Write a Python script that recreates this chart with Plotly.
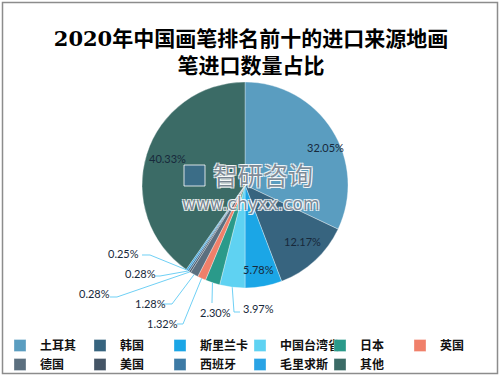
import numpy as np
import plotly.graph_objects as go

# ---------------- data ----------------
categories = ["土耳其", "韩国", "斯里兰卡", "中国台湾省", "日本", "英国",
              "德国", "美国", "西班牙", "毛里求斯", "其他"]
shares = [32.05, 12.17, 5.78, 3.97, 2.30, 1.32, 1.28, 0.28, 0.28, 0.25, 40.33]
title_text = "2020年中国画笔排名前十的进口来源地画<br>笔进口数量占比"

# ---------------- style / layout ----------------
colors = ["#5a9dc0", "#37647f", "#1ba6e6", "#5fd2f2", "#2a9a8a", "#f0806a",
          "#5b6f7f", "#455566", "#3d7aa5", "#29a3e5", "#3b6b66"]
W, H = 502, 378
CX, CY, R = 245, 185, 103          # pie centre / radius in px
LABEL_COLOR = "#17293b"
LEADER_COLOR = "#6fd0f5"

# inside labels: index -> (angle offset deg, radial fraction)
inside_cfg = {0: (7, 0.86), 1: (-3, 0.78), 2: (1.5, 0.83), 10: (1.3, 0.79)}
# outside labels: index -> (text left x, text centre y, leader elbow points)
outside_cfg = {
    3: (241, 308, [(234, 312), (240, 312)]),
    4: (198, 312, [(212, 303)]),
    5: (145, 323, [(183, 324), (177, 324)]),
    6: (133, 303, [(172, 304), (162, 304)]),
    7: (77, 293, [(117, 297), (110, 297)]),
    8: (123, 273, [(160, 276), (155, 276)]),
    9: (106, 253, [(150, 255), (142, 255)]),
}


def px(x, y):
    return x / W, 1 - y / H


vals = np.array(shares)
cum = np.cumsum(vals)
mid_deg = (cum - vals / 2) / vals.sum() * 360.0


def polar_px(angle_deg, frac):
    a = np.deg2rad(angle_deg)
    return CX + R * frac * np.sin(a), CY - R * frac * np.cos(a)


fig = go.Figure(go.Pie(
    labels=categories, values=shares, sort=False, direction="clockwise",
    rotation=0, textinfo="none", hoverinfo="label+percent",
    marker=dict(colors=colors, line=dict(color="rgba(255,255,255,0.55)", width=0.6)),
    domain=dict(x=[(CX - R) / W, (CX + R) / W], y=[1 - (CY + R) / H, 1 - (CY - R) / H]),
))

annotations = []
shapes = []
label_font = dict(family="Lato, Open Sans, sans-serif", size=11, color=LABEL_COLOR)

for i, (dang, frac) in inside_cfg.items():
    x, y = polar_px(mid_deg[i] + dang, frac)
    xp, yp = px(x, y)
    annotations.append(dict(x=xp, y=yp, xref="paper", yref="paper", text=f"{shares[i]:.2f}%",
                            showarrow=False, xanchor="center", yanchor="middle", font=label_font))

for i, (tx, ty, elbows) in outside_cfg.items():
    ax_, ay_ = polar_px(mid_deg[i], 1.0)
    pts = [(ax_, ay_)] + elbows
    path = "M " + " L ".join(f"{px(x, y)[0]:.5f},{px(x, y)[1]:.5f}" for x, y in pts)
    shapes.append(dict(type="path", path=path, xref="paper", yref="paper",
                       line=dict(color=LEADER_COLOR, width=1)))
    xp, yp = px(tx, ty)
    annotations.append(dict(x=xp, y=yp, xref="paper", yref="paper", text=f"{shares[i]:.2f}%",
                            showarrow=False, xanchor="left", yanchor="middle", font=label_font))

# watermark
wm_shadow = "1px 1px 0 #fff, -1px -1px 0 #fff, 1px -1px 0 #fff, -1px 1px 0 #fff"
xp, yp = px(263, 174)
annotations.append(dict(x=xp, y=yp, xref="paper", yref="paper", text="智研咨询", showarrow=False,
                        borderpad=0,
                        font=dict(family="Noto Sans CJK SC", size=25, color="rgba(95,110,125,0.8)",
                                  shadow=wm_shadow)))
xp, yp = px(251, 204)
annotations.append(dict(x=xp, y=yp, xref="paper", yref="paper", text="www.chyxx.com", showarrow=False,
                        borderpad=0,
                        font=dict(family="DejaVu Sans, sans-serif", size=17, color="rgba(95,110,125,0.8)",
                                  shadow=wm_shadow)))
x0, y0 = px(184, 165)
x1, y1 = px(205, 186)
shapes.append(dict(type="rect", xref="paper", yref="paper", x0=x0, y0=y0, x1=x1, y1=y1,
                   fillcolor="rgba(60,110,150,0.7)", line=dict(color="rgba(255,255,255,0.8)", width=1)))

# outer border
x0, y0 = px(2.5, 2.5)
x1, y1 = px(497.5, 373.5)
shapes.append(dict(type="rect", xref="paper", yref="paper", x0=x0, y0=y0, x1=x1, y1=y1,
                   line=dict(color="#8c8c8c", width=1.5), fillcolor="rgba(0,0,0,0)"))

fig.update_layout(
    width=W, height=H, margin=dict(l=0, r=0, t=0, b=0, autoexpand=False),
    paper_bgcolor="white", plot_bgcolor="white",
    title=dict(text=title_text, x=0.5, xanchor="center", xref="container",
               y=1 - 46 / H, yanchor="top", yref="container",
               font=dict(family="DejaVu Serif, Noto Sans CJK SC, serif", size=21, color="#000",
                         weight="bold")),
    legend=dict(orientation="h", x=0.0, xanchor="left", y=1 - 331 / H, yanchor="top",
                xref="container", yref="container",
                entrywidth=35, entrywidthmode="pixels", itemwidth=30, tracegroupgap=0,
                font=dict(family="Noto Sans CJK SC", size=12, color="#111", weight="bold"),
                bgcolor="rgba(0,0,0,0)", traceorder="normal"),
    annotations=annotations, shapes=shapes,
)

fig.write_html("out.html", config={"displayModeBar": False},
               post_script="document.body.style.margin='0px';document.body.style.overflow='hidden';")
